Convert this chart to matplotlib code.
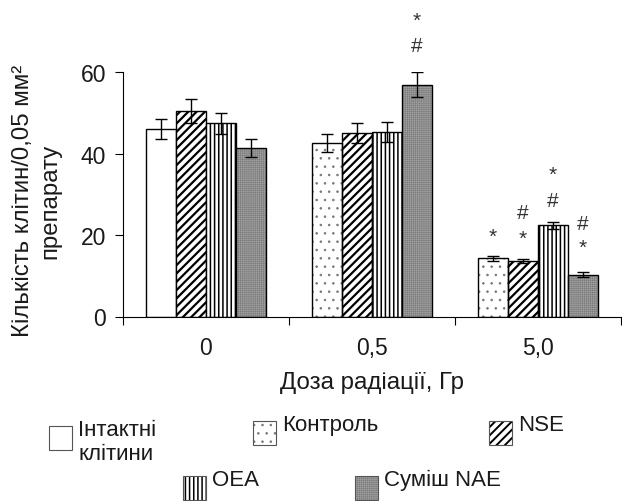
import numpy as np
import matplotlib
matplotlib.use("Agg")
import matplotlib.pyplot as plt
from matplotlib.patches import Rectangle

plt.rcParams['font.family'] = ['Liberation Sans', 'DejaVu Sans']

# ==================== DATA ====================

doses = ['0', '0,5', '5,0']
nan = np.nan

intact = [46.0, nan, nan]
intact_err = [2.4, nan, nan]
control = [nan, 42.5, 14.3]
control_err = [nan, 2.2, 0.6]
nse = [50.4, 45.0, 13.6]
nse_err = [2.9, 2.4, 0.5]
oea = [47.4, 45.3, 22.4]
oea_err = [2.5, 2.4, 0.9]
nae = [41.3, 56.9, 10.2]
nae_err = [2.2, 3.1, 0.6]

# significance marks: (symbol, height) per bar of each series
control_marks = [[], [], [('*', 19.6)]]
nse_marks = [[], [], [('*', 19.2), ('#', 25.6)]]
oea_marks = [[], [], [('#', 28.4), ('*', 34.8)]]
nae_marks = [[], [('#', 66.6), ('*', 72.8)], [('*', 17.0), ('#', 22.9)]]

legend_labels = ['Інтактні\nклітини', 'Контроль', 'NSE', 'OEA', 'Суміш NAE']

# ==================== FIGURE ====================

W, H = 622, 502
fig = plt.figure(figsize=(W / 100, H / 100), dpi=100)
ax = fig.add_axes([123 / W, 1 - 317.5 / H, (621 - 123) / W, (317.5 - 73) / H])

width = 0.18
centers = np.arange(len(doses)) + 0.5
text_col = '#1a1a1a'
nae_face = '#a2a2a2'
nae_hatch = '++++++++'

def draw_bars(slot, vals, errs, face, hatch, hatch_lw, hatch_col='black'):
    x = centers + (slot - 1.5) * width
    plt.rcParams['hatch.linewidth'] = hatch_lw
    if hatch_col != 'black':
        # hatch drawn in its own colour, outline drawn on top
        ax.bar(x, vals, width, color=face, edgecolor=hatch_col, hatch=hatch,
               linewidth=0, zorder=2)
        ax.bar(x, vals, width, fill=False, edgecolor='black', linewidth=1.0, zorder=3)
    else:
        ax.bar(x, vals, width, color=face, edgecolor='black', hatch=hatch,
               linewidth=1.0, zorder=2)
    ax.errorbar(x, vals, yerr=errs, fmt='none', ecolor='black', elinewidth=1.0,
                capsize=4, capthick=1.0, zorder=4)
    return x

draw_bars(0, intact, intact_err, 'white', None, 1.0)
x_ctrl = draw_bars(0, control, control_err, 'white', '..', 0.6, '#777777')
x_nse = draw_bars(1, nse, nse_err, 'white', '////', 1.6)
x_oea = draw_bars(2, oea, oea_err, 'white', '||||', 1.1)
x_nae = draw_bars(3, nae, nae_err, nae_face, nae_hatch, 0.4, '#7c7c7c')

def put_marks(xs, marks):
    for x, ms in zip(xs, marks):
        for ch, y in ms:
            ax.text(x, y, ch, ha='center', va='center', fontsize=15,
                    color='#333333', clip_on=False)

put_marks(x_ctrl, control_marks)
put_marks(x_nse, nse_marks)
put_marks(x_oea, oea_marks)
put_marks(x_nae, nae_marks)

# ==================== AXES ====================

ax.set_xlim(0, 3)
ax.set_ylim(0, 60)
ax.spines['top'].set_visible(False)
ax.spines['right'].set_visible(False)
ax.set_yticks([0, 20, 40, 60])
ax.set_xticks([0, 1, 2, 3])
ax.set_xticklabels([])
ax.set_xticks(centers, minor=True)
ax.set_xticklabels(doses, minor=True)
ax.tick_params(axis='x', which='major', direction='out', length=6)
ax.tick_params(axis='x', which='minor', length=0, pad=14, labelsize=16.5, labelcolor=text_col)
ax.tick_params(axis='y', direction='out', length=6, pad=6, labelsize=16.5, labelcolor=text_col)
ax.set_xlabel('Доза радіації, Гр', fontsize=17.3, color=text_col, labelpad=9)

fig.text(37 / W, 1 - 201 / H, 'Кількість клітин/0,05 мм²\nпрепарату', rotation=90,
         ha='center', va='center', multialignment='center', fontsize=17.3,
         linespacing=1.3, color=text_col)

# ==================== LEGEND ====================

# patch left/top corners, pixels
leg_x = [49, 253, 489, 183, 355]
leg_y = [427, 422, 422, 477, 477]
leg_face = ['white', 'white', 'white', 'white', nae_face]
leg_hatch = [None, '..', '////', '||||', nae_hatch]
leg_hlw = [1.0, 0.6, 1.4, 1.1, 0.4]
leg_hcol = ['black', '#777777', 'black', 'black', '#7c7c7c']

for i, lab in enumerate(legend_labels):
    x0 = leg_x[i] / W
    y0 = 1 - (leg_y[i] + 24) / H
    plt.rcParams['hatch.linewidth'] = leg_hlw[i]
    fig.add_artist(Rectangle((x0, y0), 23 / W, 24 / H, transform=fig.transFigure,
                             facecolor=leg_face[i], edgecolor=leg_hcol[i],
                             hatch=leg_hatch[i], linewidth=0))
    fig.add_artist(Rectangle((x0, y0), 23 / W, 24 / H, transform=fig.transFigure,
                             fill=False, edgecolor='#555555', linewidth=0.8))
    fig.text((leg_x[i] + 29) / W, 1 - (leg_y[i] - 7) / H, lab, ha='left', va='top',
             fontsize=16, color=text_col, linespacing=1.2)

fig.savefig('out.png', dpi=100)
